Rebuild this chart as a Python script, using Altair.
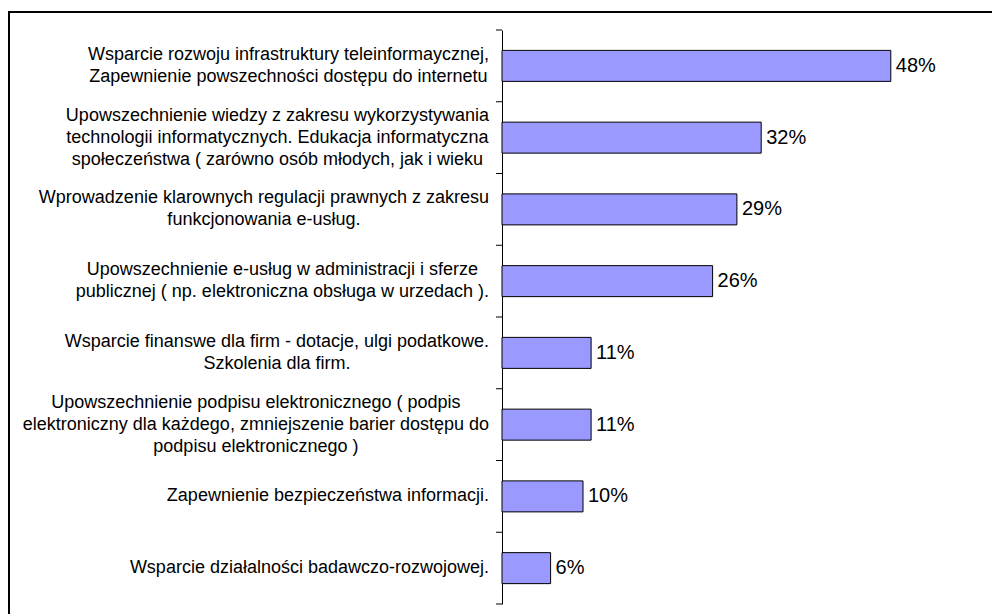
import altair as alt
import pandas as pd

labels = [
    "Wsparcie rozwoju infrastruktury teleinformaycznej,\nZapewnienie powszechności dostępu do internetu",
    "Upowszechnienie wiedzy z zakresu wykorzystywania\ntechnologii informatycznych. Edukacja informatyczna\nspołeczeństwa ( zarówno osób młodych, jak i wieku",
    "Wprowadzenie klarownych regulacji prawnych z zakresu\nfunkcjonowania e-usług.",
    "Upowszechnienie e-usług w administracji i sferze\npublicznej ( np. elektroniczna obsługa w urzedach ).",
    "Wsparcie finanswe dla firm - dotacje, ulgi podatkowe.\nSzkolenia dla firm.",
    "Upowszechnienie podpisu elektronicznego ( podpis\nelektroniczny dla każdego, zmniejszenie barier dostępu do\npodpisu elektronicznego )",
    "Zapewnienie bezpieczeństwa informacji.",
    "Wsparcie działalności badawczo-rozwojowej.",
]
values = [48, 32, 29, 26, 11, 11, 10, 6]

# approximate Arial / Liberation Sans advance widths (per 1000 em)
ARIAL = {
    " ": 278, "(": 333, ")": 333, ",": 278, "-": 333, ".": 278, "%": 889,
    "A": 667, "E": 667, "S": 667, "U": 722, "W": 944, "Z": 611,
    "a": 556, "b": 556, "c": 500, "d": 556, "e": 556, "f": 278, "g": 556,
    "h": 556, "i": 222, "j": 222, "k": 500, "l": 222, "m": 833, "n": 556,
    "o": 556, "p": 556, "r": 333, "s": 500, "t": 278, "u": 556, "w": 722,
    "y": 500, "z": 500, "ą": 556, "ę": 556, "ł": 222, "ń": 556, "ó": 556,
    "ś": 500, "ż": 500, "ź": 500, "ć": 500,
}
FONT = "Liberation Sans"
FS = 18.0
VFS = 20
LH = 22

W, H = 470, 574
N = len(labels)
STEP = H / N
PX_PER = 8.1
xmax = W / PX_PER


def text_width(s, size):
    return sum(ARIAL.get(c, 556) for c in s) / 1000.0 * size


rows = []
for lab, v in zip(labels, values):
    lines = lab.split("\n")
    w = max(text_width(l, FS) for l in lines)
    rows.append({"cat": lab, "v": v, "lx": -13 - w / 2.0,
                 "ly": STEP / 2.0 - (len(lines) - 1) * LH / 2.0})
df = pd.DataFrame(rows)

# tick marks at the band boundaries of the category axis
tick_df = pd.DataFrame({"ty": [i * STEP for i in range(N + 1)]})

yaxis = alt.Axis(labels=False, title=None, ticks=False,
                 domainColor="black", domainWidth=1, grid=False)
yscale = alt.Scale(paddingInner=0, paddingOuter=0)
yenc = alt.Y("cat:N", sort=labels, scale=yscale, axis=yaxis)
yenc_noaxis = alt.Y("cat:N", sort=labels, scale=yscale, axis=None)
xscale = alt.Scale(domain=[0, xmax], nice=False, zero=True)

base = alt.Chart(df)

bars = base.mark_bar(size=31, color="#9999FF", stroke="black",
                     strokeWidth=1).encode(
    x=alt.X("v:Q", scale=xscale, axis=None),
    y=yenc,
)

vals = base.transform_calculate(vt="datum.v + '%'").mark_text(
    align="left", baseline="middle", dx=5, font=FONT, fontSize=VFS,
    color="black").encode(
    x=alt.X("v:Q", scale=xscale, axis=None),
    y=yenc_noaxis,
    text="vt:N",
)

labs = base.mark_text(align="center", baseline="middle", lineBreak="\n",
                      lineHeight=LH, font=FONT, fontSize=FS,
                      color="black").encode(
    x=alt.X("lx:Q", scale=None, axis=None),
    y=yenc_noaxis,
    yOffset=alt.YOffset("ly:Q", scale=None),
    text="cat:N",
)

ticks = alt.Chart(tick_df).mark_tick(orient="horizontal", color="black",
                                     thickness=1, size=6, opacity=1).encode(
    y=alt.Y("ty:Q", scale=None, axis=None),
    x=alt.value(-3))

one = pd.DataFrame({"a": [0]})
frame_left = alt.Chart(one).mark_rule(color="black", strokeWidth=2).encode(
    x=alt.value(-493), y=alt.value(-18), y2=alt.value(700))
frame_top = alt.Chart(one).mark_rule(color="black", strokeWidth=2).encode(
    y=alt.value(-18), x=alt.value(-494), x2=alt.value(800))

chart = alt.layer(bars, vals, labs, ticks, frame_left, frame_top).resolve_scale(
    y="independent"
).properties(
    width=W, height=H,
    autosize=alt.AutoSizeParams(type="none"),
    padding={"left": 502, "top": 30, "right": 992 - 502 - W, "bottom": 614 - 30 - H},
    background="white",
).configure_view(stroke=None)

chart.save("out.html", embed_options={"renderer": "svg", "actions": False})
